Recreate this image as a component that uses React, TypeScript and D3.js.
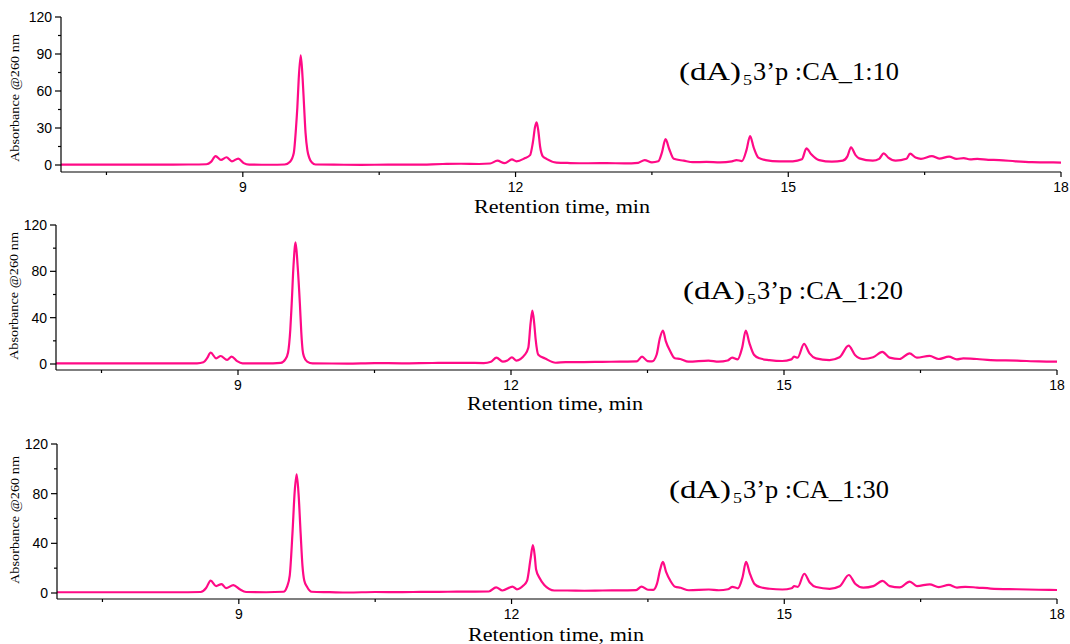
import React from "react";
import * as d3 from "d3";

// ---- data: [retention time (min), absorbance @260 nm] ----
const ratio10: [number, number][] = [
  [7.0, 0.3], [8.0, 0.3], [8.4, 0.4], [8.6, 0.6], [8.65, 2.5], [8.7, 7.2], [8.76, 4.2], [8.82, 6.3],
  [8.88, 3.0], [8.95, 5.2], [9.01, 1.5], [9.07, 0.3], [9.3, 0.2], [9.46, 0.4], [9.52, 2.7], [9.56, 9.5],
  [9.585, 30], [9.6, 47], [9.615, 70], [9.637, 89], [9.658, 70], [9.675, 46], [9.69, 26], [9.71, 12],
  [9.73, 6], [9.76, 2], [9.8, 0.4], [10.0, 0.3], [10.3, 0.1], [10.6, 0.3], [10.9, 0.3], [11.2, 0.8],
  [11.4, 1.0], [11.6, 0.8], [11.72, 1.2], [11.8, 3.5], [11.88, 1.5], [11.96, 4.5], [12.01, 3.0],
  [12.1, 5.4], [12.16, 8], [12.19, 18], [12.215, 31], [12.232, 34.5], [12.25, 28], [12.27, 15],
  [12.3, 7], [12.34, 5], [12.45, 2], [12.6, 1.6], [12.8, 1.4], [13.0, 1.5], [13.2, 1.3], [13.35, 1.8],
  [13.42, 4], [13.5, 2.2], [13.57, 3], [13.61, 10], [13.65, 21], [13.69, 13], [13.74, 5], [13.85, 3.5],
  [13.95, 2.3], [14.1, 2.5], [14.25, 2.2], [14.38, 3], [14.43, 4], [14.49, 3.2], [14.54, 12],
  [14.58, 23.5], [14.62, 14], [14.67, 6], [14.75, 4], [14.9, 2.9], [15.05, 3], [15.15, 4.6],
  [15.2, 13.5], [15.25, 9], [15.34, 4], [15.48, 2.7], [15.6, 3.5], [15.65, 7], [15.69, 14.3],
  [15.74, 8], [15.78, 5.4], [15.93, 3.5], [16.0, 5], [16.05, 9.5], [16.1, 6], [16.18, 3.5], [16.3, 5],
  [16.34, 9.2], [16.4, 6], [16.46, 5], [16.58, 7.2], [16.66, 5.2], [16.77, 6.8], [16.85, 5],
  [16.93, 5.6], [17.0, 4.5], [17.08, 5], [17.2, 4.2], [17.32, 4], [17.5, 3], [17.68, 2.3],
  [17.85, 2.1], [18.0, 2.0],
];

const ratio20: [number, number][] = [
  [7.0, 0.5], [8.3, 0.5], [8.55, 0.6], [8.62, 1.5], [8.66, 5], [8.7, 9.8], [8.76, 4.9], [8.81, 6.9],
  [8.88, 3.5], [8.93, 6.3], [8.99, 2.5], [9.05, 0.6], [9.3, 0.5], [9.47, 1], [9.52, 4], [9.55, 10],
  [9.575, 30], [9.59, 52], [9.61, 85], [9.633, 105], [9.655, 85], [9.68, 52], [9.695, 28], [9.71, 12],
  [9.725, 6.3], [9.76, 2], [9.82, 0.5], [10.2, 0.4], [10.5, 0.8], [10.8, 0.6], [11.0, 0.7], [11.2, 0.9],
  [11.5, 1], [11.7, 0.8], [11.78, 2], [11.84, 5.5], [11.91, 2], [11.96, 3], [12.01, 5.8], [12.06, 3],
  [12.15, 7.8], [12.19, 14], [12.215, 35], [12.235, 46], [12.255, 35], [12.27, 22], [12.3, 8],
  [12.375, 4.8], [12.49, 1.1], [12.6, 1.7], [12.8, 1.7], [13.0, 1.9], [13.2, 2.0], [13.38, 2.2],
  [13.44, 6.3], [13.5, 2.5], [13.55, 2.2], [13.6, 8], [13.635, 22], [13.67, 28.8], [13.7, 20],
  [13.75, 11], [13.8, 5], [13.86, 4.3], [13.95, 2], [14.17, 2.9], [14.28, 2], [14.38, 3], [14.43, 5.5],
  [14.49, 4], [14.54, 14], [14.58, 28.8], [14.62, 18], [14.67, 8], [14.73, 4.9], [14.84, 3.4],
  [14.98, 2.6], [15.08, 4], [15.11, 6.3], [15.15, 5.5], [15.22, 17.3], [15.28, 9.2], [15.35, 4.9],
  [15.5, 3.4], [15.61, 5.8], [15.71, 15.8], [15.78, 7.8], [15.87, 4.3], [15.98, 5.8], [16.08, 10.4],
  [16.16, 5.5], [16.27, 4.3], [16.38, 9.2], [16.46, 5.5], [16.6, 7], [16.7, 4.3], [16.81, 6.3],
  [16.9, 4], [16.97, 4.9], [17.12, 4.3], [17.27, 3.4], [17.56, 2.9], [17.8, 2.2], [18.0, 2.0],
];

const ratio30: [number, number][] = [
  [7.0, 0.6], [8.3, 0.6], [8.58, 0.8], [8.64, 4], [8.69, 10], [8.75, 5.6], [8.81, 7.2], [8.86, 3.9],
  [8.94, 6.4], [9.01, 3], [9.08, 0.8], [9.3, 0.6], [9.49, 1], [9.53, 5], [9.56, 14], [9.59, 48],
  [9.615, 82], [9.636, 95.5], [9.657, 80], [9.68, 48], [9.7, 22], [9.72, 10], [9.75, 5], [9.8, 1],
  [10.0, 0.7], [10.2, 0.4], [10.5, 0.8], [10.8, 0.7], [11.0, 0.9], [11.3, 1.0], [11.6, 1.1],
  [11.75, 1.2], [11.83, 4.6], [11.9, 2], [12.01, 5.2], [12.06, 3], [12.13, 6], [12.17, 9.7],
  [12.21, 28], [12.235, 38.6], [12.255, 30], [12.27, 19], [12.31, 11.8], [12.36, 6.4], [12.47, 2],
  [12.61, 2], [12.8, 1.8], [13.0, 2.0], [13.2, 2.1], [13.37, 2.3], [13.43, 5.2], [13.5, 2.6],
  [13.56, 2.5], [13.6, 7.5], [13.635, 19], [13.665, 25], [13.7, 17], [13.75, 9.5], [13.8, 5],
  [13.86, 4.2], [13.95, 2.2], [14.17, 2.8], [14.28, 2.2], [14.38, 3], [14.43, 5], [14.49, 3.8],
  [14.54, 12.5], [14.58, 25], [14.62, 16], [14.67, 7.5], [14.73, 4.8], [14.84, 3.4], [14.98, 2.8],
  [15.08, 3.8], [15.11, 5.5], [15.15, 5], [15.22, 15.5], [15.28, 8.5], [15.35, 4.8], [15.5, 3.4],
  [15.61, 5.5], [15.71, 14.5], [15.78, 7.5], [15.87, 4.3], [15.98, 5.5], [16.08, 9.8], [16.16, 5.5],
  [16.27, 4.5], [16.38, 9.2], [16.46, 5.6], [16.6, 7], [16.7, 4.8], [16.81, 6.5], [16.9, 4.4],
  [16.99, 5], [17.12, 4.4], [17.27, 3.6], [17.56, 3], [17.8, 2.6], [18.0, 2.4],
];

const xDomain: [number, number] = [7, 18];
const xMajorTicks = [9, 12, 15, 18];
const xMinorTicks = [7.5, 10.5, 13.5, 16.5];
const yMajorTop = [0, 30, 60, 90, 120];
const yMinorTop = [15, 45, 75, 105];
const yMajorLower = [0, 40, 80, 120];
const yMinorLower = [20, 60, 100];
const ratioLabels = ["1:10", "1:20", "1:30"];
const xTitle = "Retention time, min";
const yTitle = "Absorbance @260 nm";

const LINE = "#ff0a86";
const SANS = "'Liberation Sans', Arial, sans-serif";
const TIMES = "'Liberation Serif', 'Times New Roman', serif";

type PanelProps = {
  data: [number, number][];
  left: number;
  right: number;
  top: number;
  zero: number;
  axisY: number;
  yMajor: number[];
  yMinor: number[];
  label: string;
  labelX: number;
  labelY: number;
  titleCx: number;
  titleY: number;
  yTitleX: number;
  yTitleCy: number;
};

function Panel(p: PanelProps) {
  const x = d3.scaleLinear().domain(xDomain).range([p.left, p.right]);
  const y = d3.scaleLinear().domain([0, 120]).range([p.zero, p.top]);
  const line = d3
    .line<[number, number]>()
    .x((d) => x(d[0]))
    .y((d) => y(d[1]))
    .curve(d3.curveMonotoneX);
  return (
    <g>
      <path d={line(p.data) || ""} fill="none" stroke={LINE} strokeWidth={2.2} strokeLinejoin="round" />
      {/* axes */}
      <line x1={p.left} x2={p.right} y1={p.axisY} y2={p.axisY} stroke="#000" strokeWidth={1.2} />
      <line x1={p.left} x2={p.left} y1={p.axisY} y2={y(120)} stroke="#000" strokeWidth={1.2} />
      {xMajorTicks.map((t) => (
        <g key={"xm" + t}>
          <line x1={x(t)} x2={x(t)} y1={p.axisY} y2={p.axisY + 5} stroke="#000" strokeWidth={1.2} />
          <text x={x(t)} y={p.axisY + 20} textAnchor="middle" fontFamily={SANS} fontSize={14} fill="#000">
            {t}
          </text>
        </g>
      ))}
      {xMinorTicks.map((t) => (
        <line key={"xn" + t} x1={x(t)} x2={x(t)} y1={p.axisY} y2={p.axisY + 3} stroke="#000" strokeWidth={1.2} />
      ))}
      {p.yMajor.map((v) => (
        <g key={"ym" + v}>
          <line x1={p.left - 6} x2={p.left} y1={y(v)} y2={y(v)} stroke="#000" strokeWidth={1.2} />
          <text x={p.left - 9} y={y(v) + 5} textAnchor="end" fontFamily={SANS} fontSize={14} fill="#000">
            {v}
          </text>
        </g>
      ))}
      {p.yMinor.map((v) => (
        <line key={"yn" + v} x1={p.left - 3} x2={p.left} y1={y(v)} y2={y(v)} stroke="#000" strokeWidth={1.2} />
      ))}
      {/* titles */}
      <text
        x={p.titleCx}
        y={p.titleY}
        textAnchor="middle"
        fontFamily={TIMES}
        fontSize={19}
        textLength={176}
        lengthAdjust="spacingAndGlyphs"
        fill="#000"
      >
        {xTitle}
      </text>
      <text
        transform={`translate(${p.yTitleX},${p.yTitleCy}) rotate(-90)`}
        textAnchor="middle"
        fontFamily={TIMES}
        fontSize={13}
        textLength={128}
        lengthAdjust="spacingAndGlyphs"
        fill="#000"
      >
        {yTitle}
      </text>
      {/* annotation */}
      <g fontFamily={TIMES} fill="#000">
        <text x={p.labelX} y={p.labelY} fontSize={25} textLength={62} lengthAdjust="spacingAndGlyphs">
          (dA)
        </text>
        <text x={p.labelX + 64} y={p.labelY + 5} fontSize={15} textLength={9} lengthAdjust="spacingAndGlyphs">
          5
        </text>
        <text x={p.labelX + 74} y={p.labelY} fontSize={25} textLength={146} lengthAdjust="spacingAndGlyphs">
          {"3\u2019p :CA_" + p.label}
        </text>
      </g>
    </g>
  );
}

export default function App() {
  return (
    <svg
      width={1070}
      height={644}
      viewBox="0 0 1070 644"
      style={{ position: "absolute", left: 0, top: 0, background: "#fff" }}
    >
      <rect x={0} y={0} width={1070} height={644} fill="#fff" />
      <Panel
        data={ratio10}
        left={61}
        right={1061}
        top={17}
        zero={165}
        axisY={172}
        yMajor={yMajorTop}
        yMinor={yMinorTop}
        label={ratioLabels[0]}
        labelX={679}
        labelY={80}
        titleCx={562}
        titleY={213}
        yTitleX={19}
        yTitleCy={98}
      />
      <Panel
        data={ratio20}
        left={56}
        right={1057}
        top={225}
        zero={364}
        axisY={370}
        yMajor={yMajorLower}
        yMinor={yMinorLower}
        label={ratioLabels[1]}
        labelX={683}
        labelY={299}
        titleCx={555}
        titleY={410}
        yTitleX={18}
        yTitleCy={296}
      />
      <Panel
        data={ratio30}
        left={57}
        right={1057}
        top={444}
        zero={593}
        axisY={599}
        yMajor={yMajorLower}
        yMinor={yMinorLower}
        label={ratioLabels[2]}
        labelX={669}
        labelY={498}
        titleCx={556}
        titleY={641}
        yTitleX={19}
        yTitleCy={520}
      />
    </svg>
  );
}
